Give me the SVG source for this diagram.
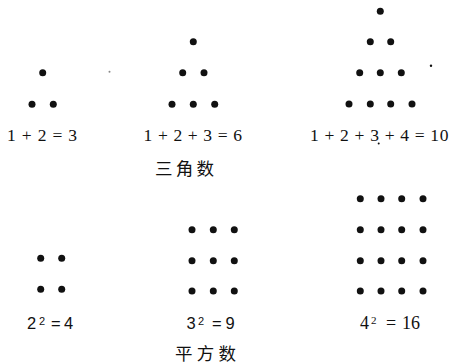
<svg xmlns="http://www.w3.org/2000/svg" width="454" height="364" viewBox="0 0 454 364">
<style>
.d{fill:#111}
.s{fill:#888}
.t{font-family:"Liberation Serif","Times New Roman",serif;font-size:17.5px;fill:#111}
.ts{font-family:"Liberation Sans",Arial,sans-serif;font-size:16.5px;fill:#111}
.sup{font-size:11px}
.cj{font-family:"Noto Sans CJK SC","Noto Sans CJK JP",sans-serif;font-size:17.5px;fill:#111}
</style>
<rect width="454" height="364" fill="#fff"/>
<g id="tri3">
<circle class="d" cx="42.7" cy="72.7" r="3.5"/>
<circle class="d" cx="32" cy="104.3" r="3.5"/>
<circle class="d" cx="53.3" cy="104.3" r="3.5"/>
<text class="t" x="7" y="141" textLength="70" lengthAdjust="spacing">1 + 2 = 3</text>
</g>
<g id="tri6">
<circle class="d" cx="193.3" cy="41.7" r="3.5"/>
<circle class="d" cx="182.7" cy="72.7" r="3.5"/>
<circle class="d" cx="204" cy="72.7" r="3.5"/>
<circle class="d" cx="172" cy="104.3" r="3.5"/>
<circle class="d" cx="193.3" cy="104.3" r="3.5"/>
<circle class="d" cx="214.7" cy="104.3" r="3.5"/>
<text class="t" x="143.5" y="141" textLength="98.5" lengthAdjust="spacing">1 + 2 + 3 = 6</text>
</g>
<g id="tri10">
<circle class="d" cx="380.3" cy="11.3" r="3.5"/>
<circle class="d" cx="370.3" cy="41.7" r="3.5"/>
<circle class="d" cx="390.7" cy="41.7" r="3.5"/>
<circle class="d" cx="359.7" cy="72.7" r="3.5"/>
<circle class="d" cx="380.3" cy="72.7" r="3.5"/>
<circle class="d" cx="401.3" cy="72.7" r="3.5"/>
<circle class="d" cx="349" cy="104" r="3.5"/>
<circle class="d" cx="370.3" cy="104" r="3.5"/>
<circle class="d" cx="390.7" cy="104" r="3.5"/>
<circle class="d" cx="412" cy="104" r="3.5"/>
<text class="t" x="310" y="141" textLength="138.5" lengthAdjust="spacing">1 + 2 + 3 + 4 = 10</text>
</g>
<g id="specks">
<circle class="s" cx="109.5" cy="71.8" r="1"/>
<circle class="d" cx="431" cy="65.7" r="1.2"/>
<circle class="d" cx="378.7" cy="143.5" r="1"/>
</g>
<g id="label-tri">
<text class="cj" x="155" y="174.5" textLength="59" lengthAdjust="spacing">三角数</text>
</g>
<g id="sq4">
<circle class="d" cx="40.7" cy="258.3" r="3.5"/>
<circle class="d" cx="61.7" cy="258.3" r="3.5"/>
<circle class="d" cx="40.7" cy="289.3" r="3.5"/>
<circle class="d" cx="61.7" cy="289.3" r="3.5"/>
<text class="ts" x="27" y="328.5">2</text>
<text class="ts sup" x="39" y="324.5">2</text>
<text class="ts" x="51" y="328.5">=</text>
<text class="ts" x="64" y="328.5">4</text>
</g>
<g id="sq9">
<circle class="d" cx="192" cy="229.7" r="3.5"/>
<circle class="d" cx="213.3" cy="229.7" r="3.5"/>
<circle class="d" cx="234.3" cy="229.7" r="3.5"/>
<circle class="d" cx="192" cy="260.7" r="3.5"/>
<circle class="d" cx="213.3" cy="260.7" r="3.5"/>
<circle class="d" cx="234.3" cy="260.7" r="3.5"/>
<circle class="d" cx="192" cy="291" r="3.5"/>
<circle class="d" cx="213.3" cy="291" r="3.5"/>
<circle class="d" cx="234.3" cy="291" r="3.5"/>
<text class="ts" x="186.5" y="328.5">3</text>
<text class="ts sup" x="198" y="324.5">2</text>
<text class="ts" x="212" y="328.5">=</text>
<text class="ts" x="225.5" y="328.5">9</text>
</g>
<g id="sq16">
<circle class="d" cx="360.3" cy="198.7" r="3.5"/>
<circle class="d" cx="381" cy="198.7" r="3.5"/>
<circle class="d" cx="401.7" cy="198.7" r="3.5"/>
<circle class="d" cx="423" cy="198.7" r="3.5"/>
<circle class="d" cx="360.3" cy="229.7" r="3.5"/>
<circle class="d" cx="381" cy="229.7" r="3.5"/>
<circle class="d" cx="401.7" cy="229.7" r="3.5"/>
<circle class="d" cx="423" cy="229.7" r="3.5"/>
<circle class="d" cx="360.3" cy="260.7" r="3.5"/>
<circle class="d" cx="381" cy="260.7" r="3.5"/>
<circle class="d" cx="401.7" cy="260.7" r="3.5"/>
<circle class="d" cx="423" cy="260.7" r="3.5"/>
<circle class="d" cx="360.3" cy="291" r="3.5"/>
<circle class="d" cx="381" cy="291" r="3.5"/>
<circle class="d" cx="401.7" cy="291" r="3.5"/>
<circle class="d" cx="423" cy="291" r="3.5"/>
<text class="t" x="360" y="329" style="font-size:18px">4</text>
<text class="t sup" x="371" y="324">2</text>
<text class="t" x="386" y="329" style="font-size:18px">=</text>
<text class="t" x="402" y="329" style="font-size:18px">16</text>
</g>
<g id="label-sq">
<text class="cj" x="175" y="359.5" textLength="61" lengthAdjust="spacing">平方数</text>
</g>
</svg>
